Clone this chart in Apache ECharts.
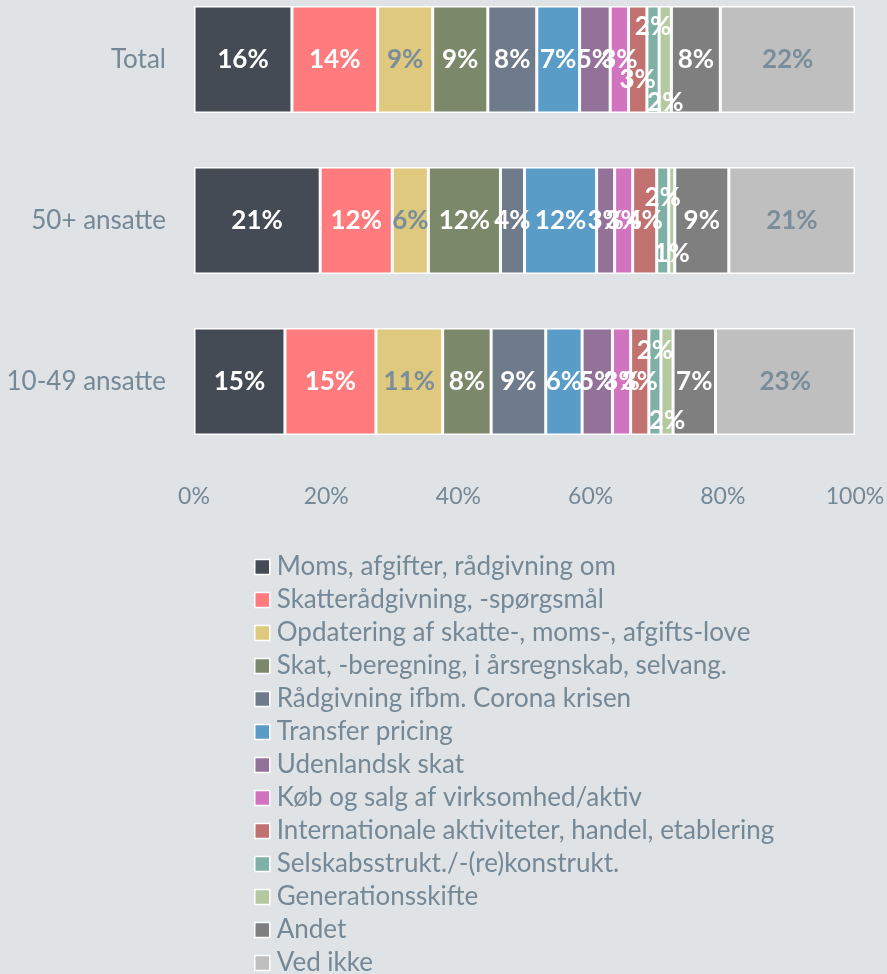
<!DOCTYPE html>
<html>
<head>
<meta charset="utf-8">
<script src="https://cdn.jsdelivr.net/npm/echarts@6/dist/echarts.min.js"></script>
<style>
  html, body { margin: 0; padding: 0; background: #dfe3e6; }
  #chart { width: 887px; height: 974px; }
</style>
</head>
<body>
<div id="chart"></div>
<script>
// rækker: Total, 50+ ansatte, 10-49 ansatte
const categories = ['Total', '50+ ansatte', '10-49 ansatte']
const xTicks = [0, 20, 40, 60, 80, 100]

const moms = [16, 21, 15]
const skatteraad = [14, 12, 15]
const opdatering = [9, 6, 11]
const skatBeregning = [9, 12, 8]
const corona = [8, 4, 9]
const transfer = [7, 12, 6]
const udenlandsk = [5, 3, 5]
const koebSalg = [3, 3, 3]
const international = [3, 4, 3]
const selskab = [2, 2, 2]
const generation = [2, 1, 2]
const andet = [8, 9, 7]
const vedIkke = [22, 21, 23]

const seriesNames = [
  'Moms, afgifter, rådgivning om',
  'Skatterådgivning, -spørgsmål',
  'Opdatering af skatte-, moms-, afgifts-love',
  'Skat, -beregning, i årsregnskab, selvang.',
  'Rådgivning ifbm. Corona krisen',
  'Transfer pricing',
  'Udenlandsk skat',
  'Køb og salg af virksomhed/aktiv',
  'Internationale aktiviteter, handel, etablering',
  'Selskabsstrukt./-(re)konstrukt.',
  'Generationsskifte',
  'Andet',
  'Ved ikke'
]
const seriesValues = [moms, skatteraad, opdatering, skatBeregning, corona, transfer,
  udenlandsk, koebSalg, international, selskab, generation, andet, vedIkke]

const colors = ['#454b55', '#ff7b7d', '#dec97e', '#7b886a', '#6f7a8b', '#5a9cc8',
  '#93729a', '#d273bf', '#c07170', '#7eb0a6', '#b5c9a1', '#7f7f7f', '#bfbfbf']
const textColor = '#758896'
const darkLabel = { 2: true, 12: true }
// små segmenter får label flyttet op/ned (som i originalen)
const labelShift = {
  8: [20, 0, 0],
  9: [-33, -23, -31],
  10: [43, 33, 39]
}

// 100% stablet: hver række normaliseres til sin sum
const rowTotals = categories.map((c, r) => seriesValues.reduce((s, arr) => s + arr[r], 0))

const chart = echarts.init(document.getElementById('chart'))
const fontFamily = 'Lato, "Open Sans", sans-serif'

const series = seriesNames.map((name, i) => ({
  name: name,
  type: 'bar',
  stack: 'all',
  barWidth: 107,
  itemStyle: { color: colors[i], borderColor: '#ffffff', borderWidth: 1.5 },
  label: {
    show: true,
    position: 'inside',
    color: darkLabel[i] ? '#7a8d9b' : '#ffffff',
    fontWeight: 'bold',
    fontSize: 26,
    fontFamily: fontFamily,
    formatter: p => p.data.raw + '%'
  },
  data: seriesValues[i].map((v, r) => ({
    value: v / rowTotals[r] * 100,
    raw: v,
    label: labelShift[i] ? { offset: [0, labelShift[i][r]] } : undefined
  }))
}))

chart.setOption({
  backgroundColor: '#dfe3e6',
  animation: false,
  grid: { left: 194, right: 32, top: -21, bottom: 512, outerBoundsMode: 'none' },
  legend: {
    orient: 'vertical',
    left: 254,
    top: 554,
    height: 440,
    padding: 0,
    itemWidth: 15,
    itemHeight: 15,
    itemGap: 7,
    icon: 'rect',
    itemStyle: { borderColor: '#ffffff', borderWidth: 1.5 },
    textStyle: { color: textColor, fontSize: 26, fontFamily: fontFamily, padding: [0, 0, 0, 2] },
    data: seriesNames
  },
  xAxis: {
    type: 'value',
    min: xTicks[0],
    max: xTicks[xTicks.length - 1],
    interval: xTicks[1] - xTicks[0],
    axisLine: { show: false },
    axisTick: { show: false },
    splitLine: { show: false },
    axisLabel: { color: textColor, fontSize: 23, fontFamily: fontFamily, margin: 23, formatter: '{value}%' }
  },
  yAxis: {
    type: 'category',
    inverse: true,
    data: categories,
    axisLine: { show: false },
    axisTick: { show: false },
    axisLabel: { color: textColor, fontSize: 26, fontFamily: fontFamily, margin: 28 }
  },
  series: series
})
</script>
</body>
</html>
